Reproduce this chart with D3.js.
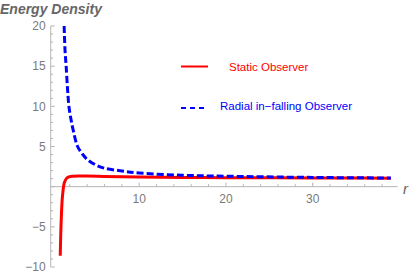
<!DOCTYPE html>
<html>
<head>
<meta charset="utf-8">
<script src="https://cdn.jsdelivr.net/npm/d3@7"></script>
<style>
  body { margin: 0; background: #fff; }
  svg { display: block; font-family: "Liberation Sans", Arial, sans-serif; }
</style>
</head>
<body>
<svg width="415" height="277"></svg>
<script>
// values
const staticR = [0.9, 0.95, 1.0, 1.05, 1.1, 1.2, 1.3, 1.45, 1.65, 1.9, 2.3, 3, 4, 6, 10, 15, 20, 30, 39];
const staticE = [-8.6, -6.2, -4.5, -3.1, -2.0, -0.7, 0.15, 0.7, 1.05, 1.22, 1.3, 1.33, 1.32, 1.28, 1.2, 1.15, 1.12, 1.08, 1.06];
const radialR = [1.35, 1.45, 1.58, 1.75, 1.9, 2.1, 2.4, 2.9, 3.5, 4, 5, 6, 8, 10, 15, 20, 30, 39];
const radialE = [20, 17, 15, 12, 10, 8.6, 7, 5, 4, 3.4, 2.7, 2.3, 1.95, 1.7, 1.42, 1.3, 1.15, 1.08];
const xTicks = [10, 20, 30];
const yTicks = [-10, -5, 5, 10, 15, 20];
const legendNames = ["Static Observer", "Radial in\u2212falling Observer"];

const svg = d3.select("svg");
const x = d3.scaleLinear().domain([-0.2, 39.8]).range([50.7, 397.7]);
const y = d3.scaleLinear().domain([-10, 20]).range([267, 26]);
const axisColor = "#b5b5b5";
const labelColor = "#7a7a7a";

// axes lines
svg.append("line").attr("x1", x(-0.2)).attr("x2", x(39.8)).attr("y1", y(0)).attr("y2", y(0))
  .attr("stroke", axisColor).attr("stroke-width", 1);
svg.append("line").attr("x1", x(-0.2)).attr("x2", x(-0.2)).attr("y1", y(-10)).attr("y2", y(20))
  .attr("stroke", axisColor).attr("stroke-width", 1);

// y ticks (inside)
d3.range(-10, 21, 1).forEach(v => {
  const major = v % 5 === 0;
  svg.append("line").attr("x1", x(-0.2)).attr("x2", x(-0.2) + (major ? 4 : 2.5))
    .attr("y1", y(v)).attr("y2", y(v)).attr("stroke", axisColor).attr("stroke-width", 1);
});
// x ticks (inside)
d3.range(2, 40, 2).forEach(v => {
  const major = v % 10 === 0;
  svg.append("line").attr("x1", x(v)).attr("x2", x(v))
    .attr("y1", y(0)).attr("y2", y(0) - (major ? 4 : 2.5)).attr("stroke", axisColor).attr("stroke-width", 1);
});

svg.append("g").selectAll("text").data(yTicks).enter().append("text")
  .attr("x", x(-0.2) - 5).attr("y", d => y(d)).attr("dy", "0.35em")
  .attr("text-anchor", "end").attr("font-size", 12).attr("fill", labelColor)
  .text(d => d < 0 ? "\u2212" + Math.abs(d) : d);
svg.append("g").selectAll("text").data(xTicks).enter().append("text")
  .attr("x", d => x(d)).attr("y", y(0) + 16)
  .attr("text-anchor", "middle").attr("font-size", 12).attr("fill", labelColor)
  .text(d => d);

// axis labels
svg.append("text").attr("x", 0).attr("y", 14).attr("font-size", 14)
  .attr("font-weight", "bold").attr("font-style", "italic").attr("fill", "#666")
  .text("Energy Density");
svg.append("text").attr("x", 403).attr("y", 194).attr("font-size", 15)
  .attr("font-style", "italic").attr("fill", "#666").text("r");

// curves
const line = d3.line().x(d => x(d[0])).y(d => y(d[1])).curve(d3.curveMonotoneX);
svg.append("path").datum(d3.zip(staticR, staticE)).attr("d", line)
  .attr("fill", "none").attr("stroke", "#ff0000").attr("stroke-width", 3);
svg.append("path").datum(d3.zip(radialR, radialE)).attr("d", d3.line().x(d => x(d[0])).y(d => y(d[1])).curve(d3.curveCatmullRom))
  .attr("fill", "none").attr("stroke", "#0000ff").attr("stroke-width", 3)
  .attr("stroke-dasharray", "7,3");

// legend
const legend = svg.append("g");
legend.append("line").attr("x1", 181).attr("x2", 208).attr("y1", 66.5).attr("y2", 66.5)
  .attr("stroke", "#ff0000").attr("stroke-width", 2);
legend.append("text").attr("x", 229).attr("y", 70.5).attr("font-size", 11.5)
  .attr("fill", "#ff0000").text(legendNames[0]);
legend.append("line").attr("x1", 181).attr("x2", 206).attr("y1", 108).attr("y2", 108)
  .attr("stroke", "#0000ff").attr("stroke-width", 2).attr("stroke-dasharray", "5,4");
legend.append("text").attr("x", 220).attr("y", 109.5).attr("font-size", 11.5)
  .attr("fill", "#0000ff").text(legendNames[1]);
</script>
</body>
</html>
